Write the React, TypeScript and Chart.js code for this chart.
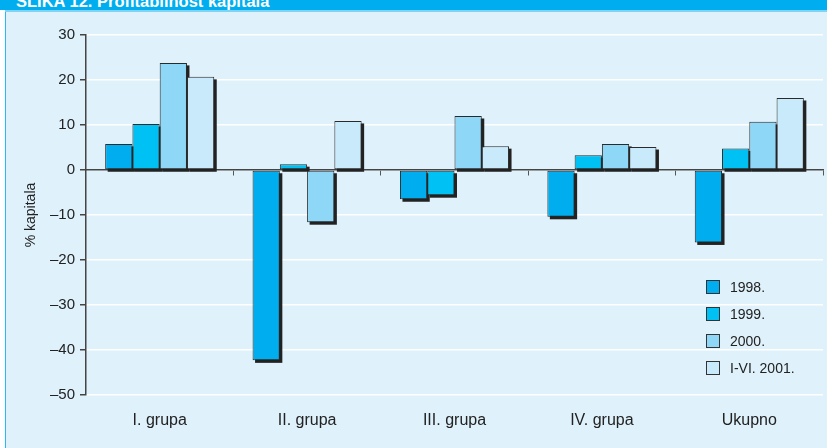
import React, { useEffect, useRef } from "react";
import { Chart, registerables } from "chart.js";

Chart.register(...registerables);

const categories = ["I. grupa", "II. grupa", "III. grupa", "IV. grupa", "Ukupno"];
const seriesNames = ["1998.", "1999.", "2000.", "I-VI. 2001."];
const values1998 = [5.8, -42.3, -6.5, -10.4, -16.1];
const values1999 = [10.2, 1.3, -5.6, 3.3, 4.8];
const values2000 = [23.8, -11.6, 12.0, 5.8, 10.7];
const values2001 = [20.7, 10.9, 5.3, 5.1, 16.0];
const seriesColors = ["#00AEEF", "#00C1F3", "#8FD7F7", "#C9EAFA"];
const yTicks = [-50, -40, -30, -20, -10, 0, 10, 20, 30];

const FONT = "'Liberation Sans', Arial, Helvetica, sans-serif";

const shadowPlugin = {
  id: "barShadow",
  beforeDatasetsDraw(chart: any) {
    const ctx = chart.ctx;
    ctx.save();
    ctx.fillStyle = "#222222";
    chart.data.datasets.forEach((_: any, i: number) => {
      const meta = chart.getDatasetMeta(i);
      meta.data.forEach((el: any) => {
        const left = el.x - el.width / 2;
        const top = Math.min(el.y, el.base);
        const h = Math.abs(el.y - el.base);
        ctx.fillRect(left + 2.5, top + 2.5, el.width, h);
      });
    });
    ctx.restore();
  },
};

export default function App() {
  const ref = useRef<HTMLCanvasElement | null>(null);

  useEffect(() => {
    document.body.style.margin = "0";
    const all = [values1998, values1999, values2000, values2001];
    const chart = new Chart(ref.current as HTMLCanvasElement, {
      type: "bar",
      data: {
        labels: categories,
        datasets: all.map((d, i) => ({
          label: seriesNames[i],
          data: d,
          backgroundColor: seriesColors[i],
          borderColor: "#2a2a2a",
          borderWidth: 1,
          borderSkipped: false,
          categoryPercentage: 0.74,
          barPercentage: 1,
        })),
      },
      options: {
        animation: false,
        responsive: false,
        maintainAspectRatio: false,
        layout: { padding: { top: 35, right: 4, left: 0, bottom: 0 } },
        plugins: { legend: { display: false }, tooltip: { enabled: false }, title: { display: false } },
        scales: {
          x: {
            type: "category",
            position: { y: 0 } as any,
            offset: true,
            grid: { offset: true, drawOnChartArea: false, drawTicks: true, tickLength: 5, tickColor: "#555", lineWidth: 1 },
            border: { display: true, color: "#444", width: 1.5 },
            ticks: { display: false },
          },
          x2: {
            type: "category",
            axis: "x",
            position: "bottom",
            labels: categories,
            offset: true,
            grid: { display: false, drawTicks: false },
            border: { display: false },
            ticks: { padding: 16, color: "#222", font: { family: FONT, size: 16 } },
            afterFit: (s: any) => {
              s.height = 53;
            },
          } as any,
          y: {
            min: -50,
            max: 30,
            afterBuildTicks: (s: any) => {
              s.ticks = yTicks.map((v) => ({ value: v }));
            },
            afterFit: (s: any) => {
              s.width = 86;
            },
            grid: { color: "#FFFFFF", lineWidth: 1.5, drawTicks: true, tickLength: 6, tickColor: "#444" },
            border: { display: true, color: "#444", width: 1.5 },
            ticks: {
              padding: 5,
              color: "#222",
              font: { family: FONT, size: 15 },
              callback: (v: any) => (Number(v) < 0 ? "\u2013" + Math.abs(Number(v)) : String(v)),
            },
            title: {
              display: true,
              text: "% kapitala",
              color: "#222",
              font: { family: FONT, size: 14 },
              padding: { top: 23, bottom: 0 },
            },
          },
        },
      },
      plugins: [shadowPlugin],
    } as any);
    return () => chart.destroy();
  }, []);

  const legendTop = [279, 306, 333, 360];

  return (
    <div style={{ position: "relative", width: 827, height: 448, overflow: "hidden", fontFamily: FONT }}>
      <div style={{ position: "absolute", left: 5, top: 0, width: 822, height: 448, background: "#DFF1FB", borderLeft: "1.5px solid #2BB8EE" }} />
      <div style={{ position: "absolute", left: 0, top: 0, width: 827, height: 10, background: "#00AEEF", overflow: "hidden" }}>
        <span style={{ position: "absolute", left: 16, top: -7.5, color: "#fff", fontWeight: "bold", fontSize: 16.5, lineHeight: 1, whiteSpace: "nowrap" }}>
          SLIKA 12. Profitabilnost kapitala
        </span>
      </div>
      <div style={{ position: "absolute", left: 5, top: 10, width: 822, height: 1.5, background: "#7FD3F5" }} />
      <canvas ref={ref} width={827} height={448} style={{ position: "absolute", left: 0, top: 0, width: 827, height: 448 }} />
      {seriesNames.map((n, i) => (
        <div key={n} style={{ position: "absolute", left: 706, top: legendTop[i], height: 16, display: "flex", alignItems: "center" }}>
          <div style={{ width: 14, height: 14, boxSizing: "border-box", background: seriesColors[i], border: "1px solid #333" }} />
          <span style={{ marginLeft: 10, fontSize: 14, color: "#222", lineHeight: "16px" }}>{n}</span>
        </div>
      ))}
    </div>
  );
}
